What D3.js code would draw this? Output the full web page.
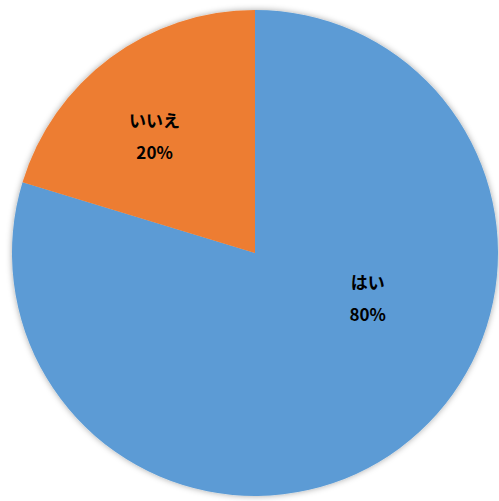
<!DOCTYPE html>
<html>
<head>
<meta charset="utf-8">
<script src="https://cdn.jsdelivr.net/npm/d3@7"></script>
<style>
  body { margin: 0; background: #fff; }
  svg { display: block; }
</style>
</head>
<body>
<svg id="chart"></svg>
<script>
const WIDTH = 499;
const HEIGHT = 501;

// Chart data.
const categories = ['はい', 'いいえ'];
const values = [79.7, 20.3];
const colors = ['#5b9bd5', '#ed7d31'];
// Excel puts labels off the centroid; angle (deg, clockwise from top) and radius fraction.
const labelAngles = [112, -41];
const labelRadii = [0.5, 0.63];

const cx = 255;
const cy = 253;
const radius = 243;

const svg = d3
  .select('#chart')
  .attr('width', WIDTH)
  .attr('height', HEIGHT)
  .attr('viewBox', `0 0 ${WIDTH} ${HEIGHT}`);

// Soft shadow round the pie.
const filter = svg
  .append('defs')
  .append('filter')
  .attr('id', 'shadow')
  .attr('x', '-10%')
  .attr('y', '-10%')
  .attr('width', '120%')
  .attr('height', '120%');
filter
  .append('feDropShadow')
  .attr('dx', 0)
  .attr('dy', 0)
  .attr('stdDeviation', 3)
  .attr('flood-color', '#000')
  .attr('flood-opacity', 0.35);

const pie = d3.pie().sort(null).value(d => d.value);
const arc = d3.arc().innerRadius(0).outerRadius(radius);

const data = categories.map((c, i) => ({name: c, value: values[i], i}));

const g = svg.append('g').attr('transform', `translate(${cx},${cy})`);

g.append('g')
  .attr('filter', 'url(#shadow)')
  .selectAll('path')
  .data(pie(data))
  .join('path')
  .attr('d', arc)
  .attr('fill', d => colors[d.data.i]);

const labels = g
  .selectAll('g.label')
  .data(data)
  .join('g')
  .attr('class', 'label')
  .attr('transform', d => {
    const p = d3.pointRadial(
      (labelAngles[d.i] * Math.PI) / 180,
      labelRadii[d.i] * radius
    );
    return `translate(${p[0]},${p[1]})`;
  })
  .style('font-family', '"Noto Sans CJK JP", "Noto Sans", sans-serif')
  .style('font-weight', 'bold')
  .style('font-size', '17px')
  .attr('text-anchor', 'middle')
  .attr('fill', '#000');

labels.append('text').attr('y', -10).text(d => d.name);
labels.append('text').attr('y', 22).text(d => Math.round(d.value) + '%');
</script>
</body>
</html>
